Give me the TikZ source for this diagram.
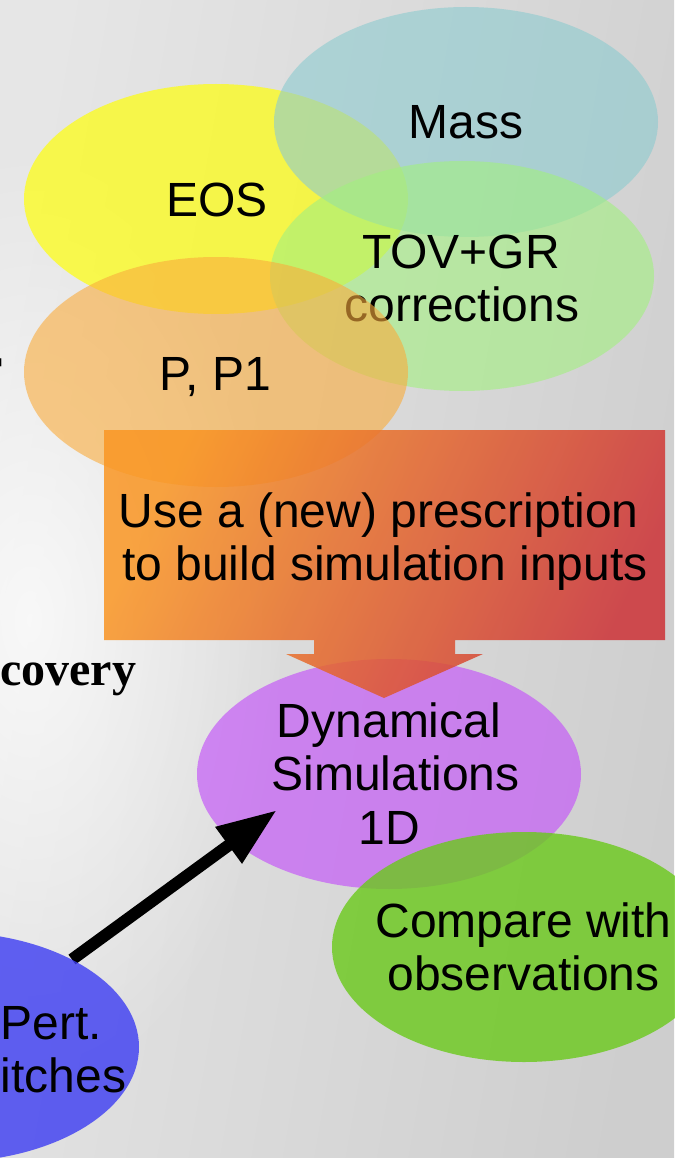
\documentclass[tikz,border=0pt]{standalone}
\usepackage{fontspec}
\setmainfont{Liberation Sans}
\newfontfamily\serifx{Liberation Serif}
\usetikzlibrary{arrows.meta,shapes.geometric,fadings}
\tikzfading[name=softglow, inner color=transparent!0, outer color=transparent!100]
\definecolor{bgL}{RGB}{230,230,230}
\definecolor{bgR}{RGB}{206,206,206}
\definecolor{cEos}{RGB}{255,255,10}
\definecolor{cMass}{RGB}{140,203,207}
\definecolor{cTov}{RGB}{162,240,127}
\definecolor{cPP}{RGB}{250,172,60}
\definecolor{cDyn}{RGB}{197,92,247}
\definecolor{cCmp}{RGB}{106,201,26}
\definecolor{cPert}{RGB}{60,60,242}
\definecolor{boxA}{RGB}{250,150,35}
\definecolor{boxB}{RGB}{205,50,55}
\begin{document}
\begin{tikzpicture}[x=1pt,y=-1pt,
  blob/.style={ellipse, draw=none, minimum width=384pt, minimum height=230pt, inner sep=0pt},
  lbl/.style={anchor=base, inner sep=0pt, font=\fontsize{48}{53}\selectfont, text=black},
  serifl/.style={inner sep=0pt, font=\serifx\bfseries\fontsize{48}{53}\selectfont, text=black},
]
\useasboundingbox (0,0) rectangle (674,1158);
\shade[left color=bgL, right color=bgR, shading angle=80] (0,0) rectangle (674,1158);
% lighter soft area on the left of the backdrop
\fill[white, fill opacity=0.75, path fading=softglow]
  (30,620) ellipse [x radius=260pt, y radius=480pt];

% top cluster
\node[blob, fill=cEos, fill opacity=0.7] (eos) at (216,199) {};
\node[lbl] (eosT) at (217,217) {EOS};
\node[blob, fill=cMass, fill opacity=0.6] (mass) at (466,122) {};
\node[lbl] (massT) at (466,139) {Mass};
\node[blob, fill=cTov, fill opacity=0.6] (tov) at (462,276) {};
\node[lbl] (tovT1) at (461,268) {TOV+GR};
\node[lbl] (tovT2) at (462,321) {corrections};
\node[blob, fill=cPP, fill opacity=0.6] (pp) at (216,372) {};
\node[lbl] (ppT) at (215.5,390) {P, P1};

% dynamical simulations
\node[blob, fill=cDyn, fill opacity=0.7] (dyn) at (389,774) {};

% prescription box with arrow
\path[fill opacity=0.85, left color=boxA, right color=boxB, shading angle=65]
  (104,430) -- (665,430) -- (665,640) -- (455,640) -- (455,654) -- (483,654)
  -- (384,698) -- (286,654) -- (314,654) -- (314,640) -- (104,640) -- cycle;
\node[lbl] (pr1) at (378.5,527) {Use a (new) prescription};
\node[lbl] (pr2) at (385,580) {to build simulation inputs};

\node[lbl] (dy1) at (389,737) {Dynamical};
\node[lbl] (dy2) at (395.5,790) {Simulations};
\node[lbl] (dy3) at (389,844) {1D};

% compare
\node[blob, fill=cCmp, fill opacity=0.8] (cmp) at (524,947) {};
\node[lbl] (cm1) at (523.5,937) {Compare with};
\node[lbl] (cm2) at (523.5,990) {observations};

% perturbation ellipse and arrow
\node[blob, draw=none] (pertpos) at (-53,1047) {};
\coordinate (atip) at (277,810);
\draw[line width=12pt, -{Triangle[length=60pt,width=42pt]}] (pertpos.35) -- (atip);
\node[blob, fill=cPert, fill opacity=0.8] (pert) at (-53,1047) {};
\node[lbl] (pe1) at (51.5,1039) {Pert.};
\node[lbl] (pe2) at (63.5,1092) {itches};

% cut-off serif text on the left
\node[serifl, anchor=base west] (cov) at (0,685) {covery};
\node[serifl, anchor=base east] (rr) at (3,381) {r};
\end{tikzpicture}
\end{document}
